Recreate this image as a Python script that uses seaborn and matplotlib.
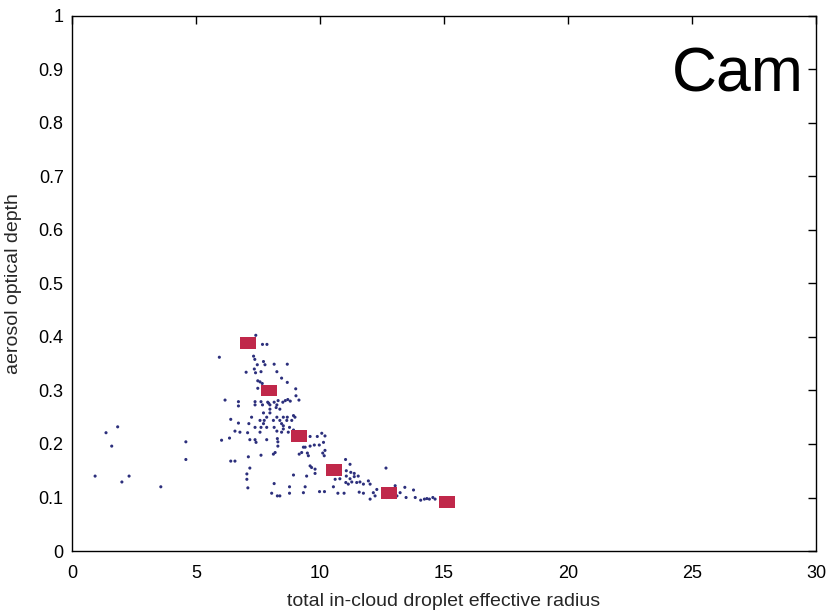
import numpy as np
import pandas as pd
import seaborn as sns
import matplotlib.pyplot as plt

# Scatter of individual samples
radius = [0.93, 1.37, 1.60, 1.84, 2.01, 2.30, 3.58, 4.59, 4.59, 5.94, 6.17, 6.40, 6.03, 6.35, 6.57,
          6.40, 6.57, 6.71, 6.71, 6.71, 6.77, 7.02, 7.24, 7.08, 7.17, 7.11, 7.17, 7.05, 7.05, 7.09, 7.13,
          7.41, 7.68, 7.86, 7.32, 7.37, 7.47, 7.40, 7.35, 7.72, 7.78, 8.15, 8.68, 7.62, 8.26, 7.49, 7.58,
          7.67, 8.45, 8.68, 7.49, 9.02, 9.03, 9.15, 7.38, 7.38, 7.62, 7.68, 7.89, 7.93, 7.98, 8.15, 8.26,
          8.31, 8.50, 8.60, 8.70, 8.80, 7.98, 8.23, 8.38, 7.72, 7.85, 7.98, 8.26, 8.52, 8.68, 8.93, 8.99,
          7.58, 7.75, 8.12, 8.38, 8.66, 8.86, 7.72, 8.45, 8.52, 7.38, 7.62, 7.85, 8.15, 8.52, 8.77, 8.93,
          7.58, 8.26, 8.45, 8.72, 7.38, 7.42, 7.85, 8.28, 8.30, 8.30, 9.40, 9.60, 9.89, 10.07, 10.20,
          9.60, 9.77, 9.97, 10.14, 9.33, 9.40, 10.20, 10.11, 10.17, 9.16, 9.26, 9.49, 9.53, 7.62, 8.12,
          8.19, 9.60, 9.66, 9.80, 8.93, 9.46, 9.80, 11.03, 11.21, 11.06, 11.24, 11.38, 11.06, 11.21,
          11.38, 11.54, 10.61, 10.80, 11.04, 11.14, 11.28, 11.48, 11.61, 11.75, 11.95, 12.02, 8.15,
          8.77, 9.40, 9.98, 10.18, 10.54, 8.05, 8.28, 8.38, 8.77, 9.33, 10.72, 10.97, 11.58, 11.75,
          12.15, 12.22, 12.02, 12.29, 12.66, 12.53, 12.68, 13.10, 13.23, 13.42, 13.47, 13.77, 13.84,
          14.06, 14.21, 14.31, 14.41, 14.55, 14.64, 13.03]
aod = [0.140, 0.221, 0.196, 0.232, 0.129, 0.140, 0.120, 0.204, 0.171, 0.362, 0.282, 0.246, 0.207,
       0.211, 0.224, 0.168, 0.168, 0.239, 0.279, 0.271, 0.222, 0.334, 0.250, 0.221, 0.208, 0.176,
       0.155, 0.144, 0.134, 0.118, 0.238, 0.403, 0.386, 0.386, 0.364, 0.358, 0.348, 0.333, 0.340,
       0.354, 0.348, 0.349, 0.349, 0.335, 0.335, 0.318, 0.316, 0.313, 0.323, 0.315, 0.304, 0.303,
       0.290, 0.282, 0.279, 0.273, 0.279, 0.273, 0.278, 0.276, 0.273, 0.278, 0.273, 0.281, 0.278,
       0.281, 0.283, 0.280, 0.265, 0.268, 0.265, 0.258, 0.250, 0.258, 0.250, 0.250, 0.250, 0.253,
       0.250, 0.244, 0.244, 0.244, 0.244, 0.244, 0.244, 0.238, 0.238, 0.234, 0.231, 0.231, 0.231,
       0.231, 0.228, 0.231, 0.226, 0.222, 0.224, 0.222, 0.222, 0.208, 0.203, 0.208, 0.210, 0.204,
       0.196, 0.217, 0.214, 0.214, 0.220, 0.215, 0.196, 0.198, 0.198, 0.203, 0.194, 0.194, 0.188,
       0.183, 0.178, 0.181, 0.184, 0.183, 0.178, 0.179, 0.181, 0.184, 0.159, 0.156, 0.153, 0.142,
       0.140, 0.145, 0.171, 0.162, 0.150, 0.147, 0.145, 0.140, 0.135, 0.139, 0.140, 0.134, 0.135,
       0.128, 0.125, 0.129, 0.128, 0.129, 0.125, 0.131, 0.125, 0.126, 0.120, 0.120, 0.111, 0.111,
       0.120, 0.108, 0.103, 0.103, 0.108, 0.109, 0.108, 0.108, 0.110, 0.108, 0.109, 0.103, 0.097,
       0.115, 0.155, 0.104, 0.100, 0.103, 0.109, 0.119, 0.100, 0.114, 0.100, 0.095, 0.097, 0.098,
       0.097, 0.100, 0.097, 0.122]

# Binned means (red squares)
bin_radius = [7.10, 7.94, 9.15, 10.56, 12.78, 15.12]
bin_aod = [0.388, 0.300, 0.215, 0.151, 0.108, 0.092]

x_ticks = [0, 5, 10, 15, 20, 25, 30]
y_ticks = [0, 0.1, 0.2, 0.3, 0.4, 0.5, 0.6, 0.7, 0.8, 0.9, 1]
y_tick_labels = ['0', '0.1', '0.2', '0.3', '0.4', '0.5', '0.6', '0.7', '0.8', '0.9', '1']

df = pd.DataFrame({'radius': radius, 'aod': aod})
bins = pd.DataFrame({'radius': bin_radius, 'aod': bin_aod})

sns.set_style('white')
plt.rcParams['font.family'] = ['Liberation Sans Narrow', 'Liberation Sans', 'DejaVu Sans']

fig = plt.figure(figsize=(8.29, 6.15), dpi=100)
ax = fig.add_axes([0.0869, 0.104, 0.8974, 0.8705])

sns.scatterplot(data=df, x='radius', y='aod', ax=ax, color='#2c2f7c', s=5,
                edgecolor='none', linewidth=0)
rect = [(-1.3, -1), (1.3, -1), (1.3, 1), (-1.3, 1), (-1.3, -1)]
sns.scatterplot(data=bins, x='radius', y='aod', ax=ax, color='#c0284a', marker=rect,
                s=120, edgecolor='none', linewidth=0)

ax.set_xlim(0, 30)
ax.set_ylim(0, 1)
ax.set_xticks(x_ticks)
ax.set_yticks(y_ticks)
ax.set_yticklabels(y_tick_labels)
ax.tick_params(direction='in', length=6, width=1, colors='black', labelsize=13,
               top=True, right=True)
ax.tick_params(axis='x', pad=10)
ax.tick_params(axis='y', pad=6)
for s in ax.spines.values():
    s.set_visible(True)
    s.set_color('black')
    s.set_linewidth(1)

ax.set_xlabel('total in-cloud droplet effective radius', fontsize=14, labelpad=8)
ax.set_ylabel('aerosol optical depth', fontsize=14, labelpad=12)

fig.text(0.811, 0.852, 'Cam', fontsize=45, family=['Liberation Sans', 'DejaVu Sans'],
         color='black')

fig.savefig('out.png', dpi=100, facecolor='white')
